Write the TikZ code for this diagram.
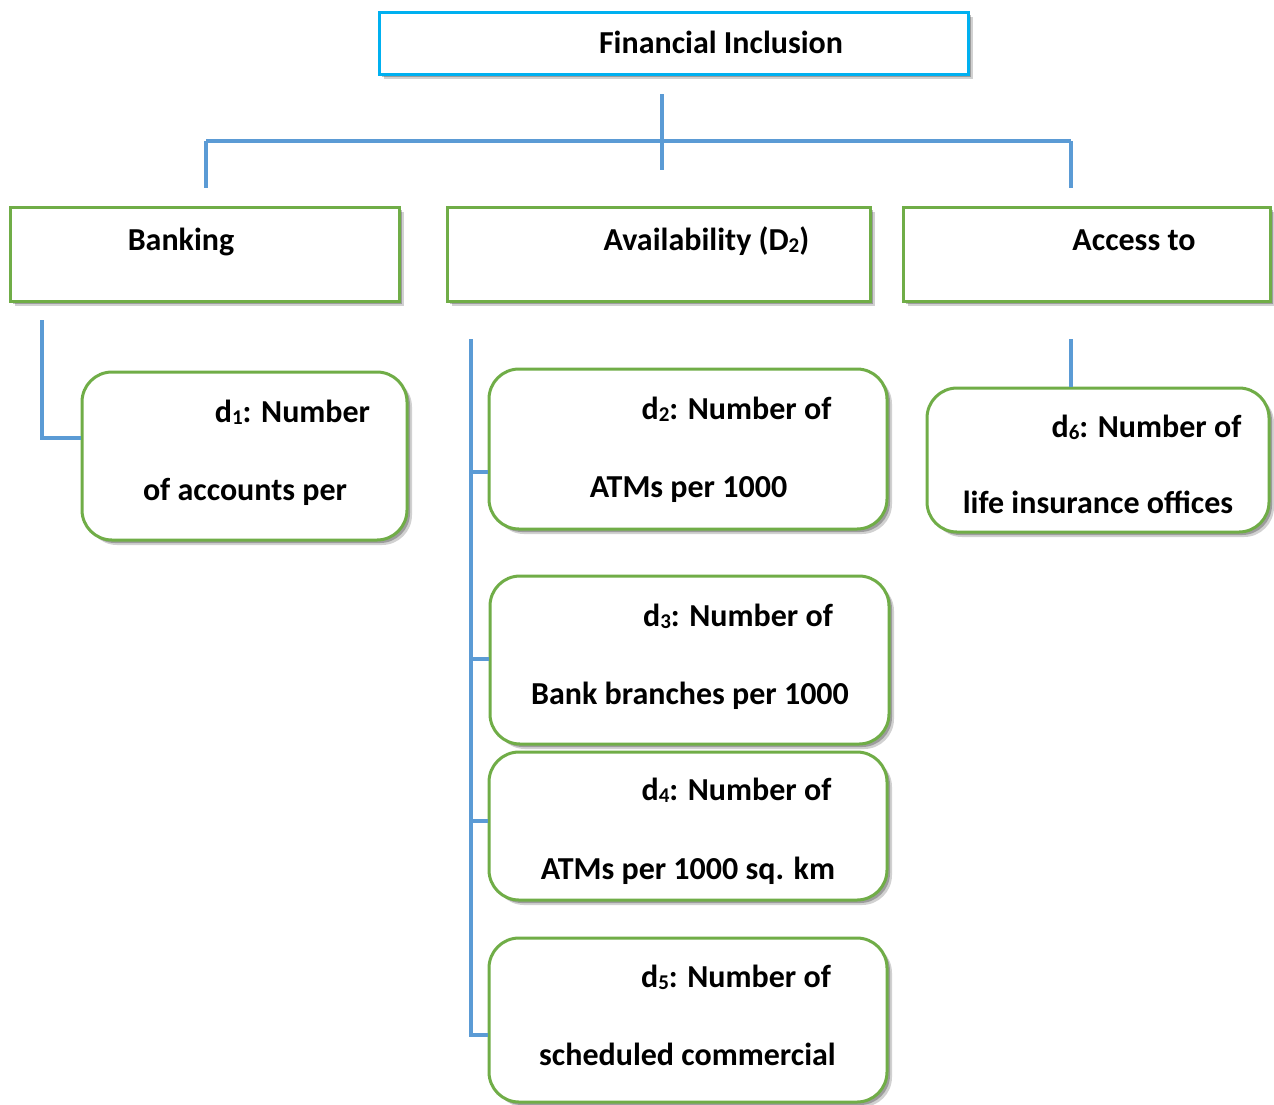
\documentclass[tikz,border=0pt]{standalone}
\usepackage{fontspec}
\setmainfont{Carlito}
\usetikzlibrary{shadows}
\definecolor{topblue}{HTML}{00B0F0}
\definecolor{boxgreen}{HTML}{70AD47}
\definecolor{linkblue}{HTML}{5B9BD5}
\newcommand{\lowdig}[1]{\raisebox{-2pt}{\fontsize{21}{21}\selectfont #1}}
\begin{document}
\begin{tikzpicture}[x=1pt,y=-1pt,
  shade/.style={drop shadow={shadow xshift=5pt,shadow yshift=-5pt,opacity=0.18,fill=black},
                drop shadow={shadow xshift=3pt,shadow yshift=-3pt,opacity=0.25,fill=black}},
  topbox/.style={draw=topblue,line width=3pt,fill=white,inner sep=0pt,shade},
  catbox/.style={draw=boxgreen,line width=3pt,fill=white,inner sep=0pt,shade},
  leafbox/.style={draw=boxgreen,line width=3pt,fill=white,inner sep=0pt,rounded corners=30pt,shade},
  lbl/.style={font=\fontsize{32}{38}\selectfont\bfseries,inner sep=0pt,anchor=base},
  conn/.style={draw=linkblue,line width=3.5pt}]
\useasboundingbox (0,0) rectangle (1274,1104);
\fill[white] (0,0) rectangle (1274,1104);
% boxes
\node[topbox,minimum width=589pt,minimum height=62pt] (fi) at (673.5,43) {};
\node[catbox,minimum width=389pt,minimum height=94pt] (bank) at (204.5,254) {};
\node[catbox,minimum width=423pt,minimum height=94pt] (avail) at (658.5,254) {};
\node[catbox,minimum width=367pt,minimum height=94pt] (access) at (1086.5,254) {};
\node[leafbox,minimum width=325pt,minimum height=168pt] (d1) at (244.5,456) {};
\node[leafbox,minimum width=398pt,minimum height=160pt] (d2) at (688,449) {};
\node[leafbox,minimum width=399pt,minimum height=168pt] (d3) at (689.5,660) {};
\node[leafbox,minimum width=398pt,minimum height=148pt] (d4) at (688,826) {};
\node[leafbox,minimum width=398pt,minimum height=164pt] (d5) at (688,1020) {};
\node[leafbox,minimum width=342pt,minimum height=144pt] (d6) at (1098,460) {};
% labels
\node[lbl] (tfi) at (721,53) {Financial Inclusion};
\node[lbl] (tbank) at (181,250) {Banking};
\node[lbl] (tavail) at (706.5,250) {Availability (D\lowdig{2})};
\node[lbl] (tacc) at (1134,250) {Access to};
\node[lbl] (t1a) at (292.5,422) {d\lowdig{1}: Number};
\node[lbl] (t1b) at (245,500) {of accounts per};
\node[lbl] (t2a) at (736.5,419) {d\lowdig{2}: Number of};
\node[lbl] (t2b) at (688.5,497) {ATMs per 1000};
\node[lbl] (t3a) at (738,626) {d\lowdig{3}: Number of};
\node[lbl] (t3b) at (690,704) {Bank branches per 1000};
\node[lbl] (t4a) at (736.5,800) {d\lowdig{4}: Number of};
\node[lbl] (t4b) at (688,879) {ATMs per 1000 sq. km};
\node[lbl] (t5a) at (736,987) {d\lowdig{5}: Number of};
\node[lbl] (t5b) at (687.5,1065) {scheduled commercial};
\node[lbl] (t6a) at (1146.5,437) {d\lowdig{6}: Number of};
\node[lbl] (t6b) at (1098,513) {life insurance offices};
% connector coordinates
\coordinate (stubtop) at (662,94);
\coordinate (stubbot) at (662,170);
\coordinate (hl) at (206,141);
\coordinate (hr) at (1071,141);
\coordinate (dl) at (206,188);
\coordinate (dr) at (1071,188);
\coordinate (b1) at (42,320);
\coordinate (b2) at (42,438);
\coordinate (m1) at (471,339);
\coordinate (m2) at (471,472);
\coordinate (m3) at (471,659);
\coordinate (m4) at (471,821);
\coordinate (m5) at (471,1035);
\coordinate (a1) at (1071,339);
% connectors
\draw[conn] (stubtop) -- (stubbot);
\draw[conn] (hl) -- (hr);
\draw[conn] (hl) -- (dl);
\draw[conn] (hr) -- (dr);
\draw[conn] (b1) -- (b2) -- (b2 -| d1.west);
\draw[conn] (m1) -- (m5) -- (m5 -| d5.west);
\draw[conn] (m2) -- (m2 -| d2.west);
\draw[conn] (m3) -- (m3 -| d3.west);
\draw[conn] (m4) -- (m4 -| d4.west);
\draw[conn] (a1) -- (a1 |- d6.north);
\end{tikzpicture}
\end{document}
